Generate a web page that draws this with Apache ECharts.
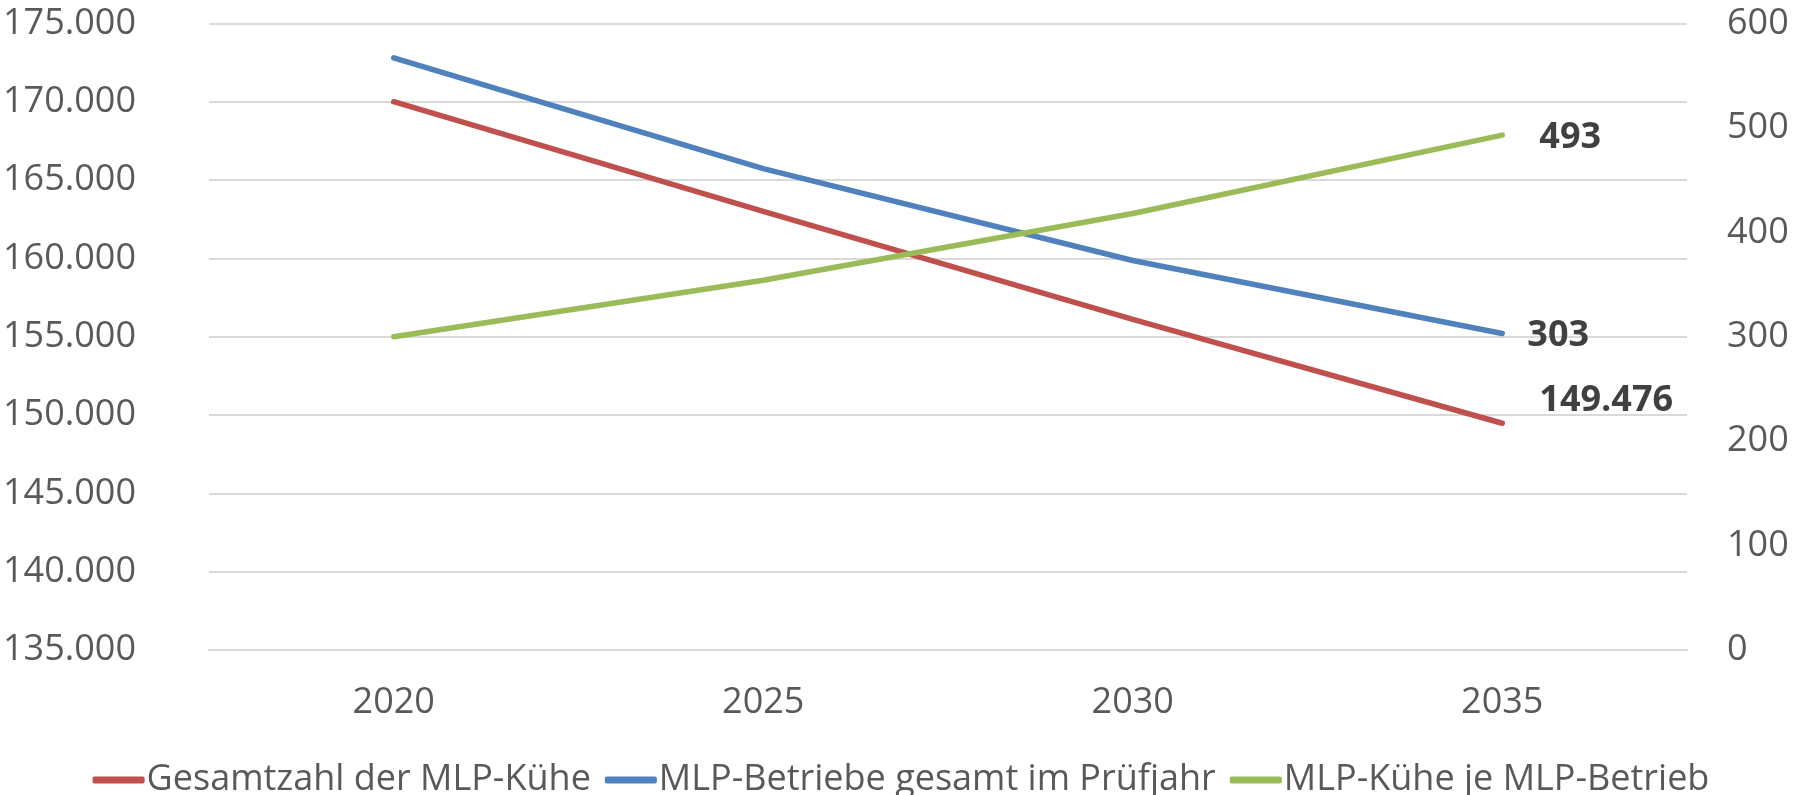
<!DOCTYPE html>
<html>
<head>
<meta charset="utf-8">
<script src="https://cdn.jsdelivr.net/npm/echarts@6/dist/echarts.min.js"></script>
<style>html,body{margin:0;padding:0;background:#fff;}#c{width:1802px;height:795px;}</style>
</head>
<body>
<div id="c"></div>
<script>
var categories = ['2020', '2025', '2030', '2035'];
var kuehe = [170000, 163000, 156100, 149476];
var betriebe = [567, 461, 373, 303];
var kueheJeBetrieb = [300, 354, 418, 493];
var seriesNames = ['Gesamtzahl der MLP-Kühe', 'MLP-Betriebe gesamt im Prüfjahr', 'MLP-Kühe je MLP-Betrieb'];

function de(v) {
  return String(Math.round(v)).replace(/\B(?=(\d{3})+(?!\d))/g, '.');
}
var font = '"Open Sans", "Noto Sans", sans-serif';
var grey = '#595959';

function lastLabel(values, dx, dy) {
  return values.map(function (v, i) {
    if (i !== values.length - 1) return v;
    return {
      value: v,
      label: {
        show: true, position: 'right', distance: 0, offset: [dx, dy],
        formatter: function (p) { return de(p.value); },
        fontFamily: font, fontSize: 36, fontWeight: 'bold', color: '#404040'
      }
    };
  });
}

function lineSeries(name, axis, color, data) {
  return {
    name: name, type: 'line', yAxisIndex: axis,
    symbol: 'circle', symbolSize: 0.1, showSymbol: true,
    lineStyle: {color: color, width: 5.5, cap: 'round'},
    itemStyle: {color: color},
    label: {show: false},
    data: data
  };
}

var chart = echarts.init(document.getElementById('c'), null, {renderer: 'canvas'});
chart.setOption({
  animation: false,
  backgroundColor: '#ffffff',
  grid: {left: 209, right: 115, top: 23.4, bottom: 145, containLabel: false},
  legend: {
    bottom: -8, left: 'center', itemWidth: 52, itemHeight: 7, itemGap: 14,
    icon: 'roundRect',
    textStyle: {fontFamily: font, fontSize: 36, color: grey, padding: [0, 0, 0, -3]},
    data: seriesNames
  },
  xAxis: {
    type: 'category', data: categories, boundaryGap: true,
    axisLine: {show: true, lineStyle: {color: '#d9d9d9', width: 2}},
    axisTick: {show: false},
    axisLabel: {fontFamily: font, fontSize: 36, color: grey, margin: 35}
  },
  yAxis: [
    {
      type: 'value', min: 135000, max: 175000, interval: 5000,
      axisLine: {show: false}, axisTick: {show: false},
      splitLine: {lineStyle: {color: '#d9d9d9', width: 2}},
      axisLabel: {fontFamily: font, fontSize: 36, color: grey, margin: 73, formatter: de}
    },
    {
      type: 'value', min: 0, max: 600, interval: 100, position: 'right',
      axisLine: {show: false}, axisTick: {show: false}, splitLine: {show: false},
      axisLabel: {fontFamily: font, fontSize: 36, color: grey, margin: 40}
    }
  ],
  series: [
    lineSeries(seriesNames[0], 0, '#C0504D', lastLabel(kuehe, 37, -22)),
    lineSeries(seriesNames[1], 1, '#4F81BD', lastLabel(betriebe, 25, 2)),
    lineSeries(seriesNames[2], 1, '#9BBB59', lastLabel(kueheJeBetrieb, 37, 3))
  ]
});
</script>
</body>
</html>
